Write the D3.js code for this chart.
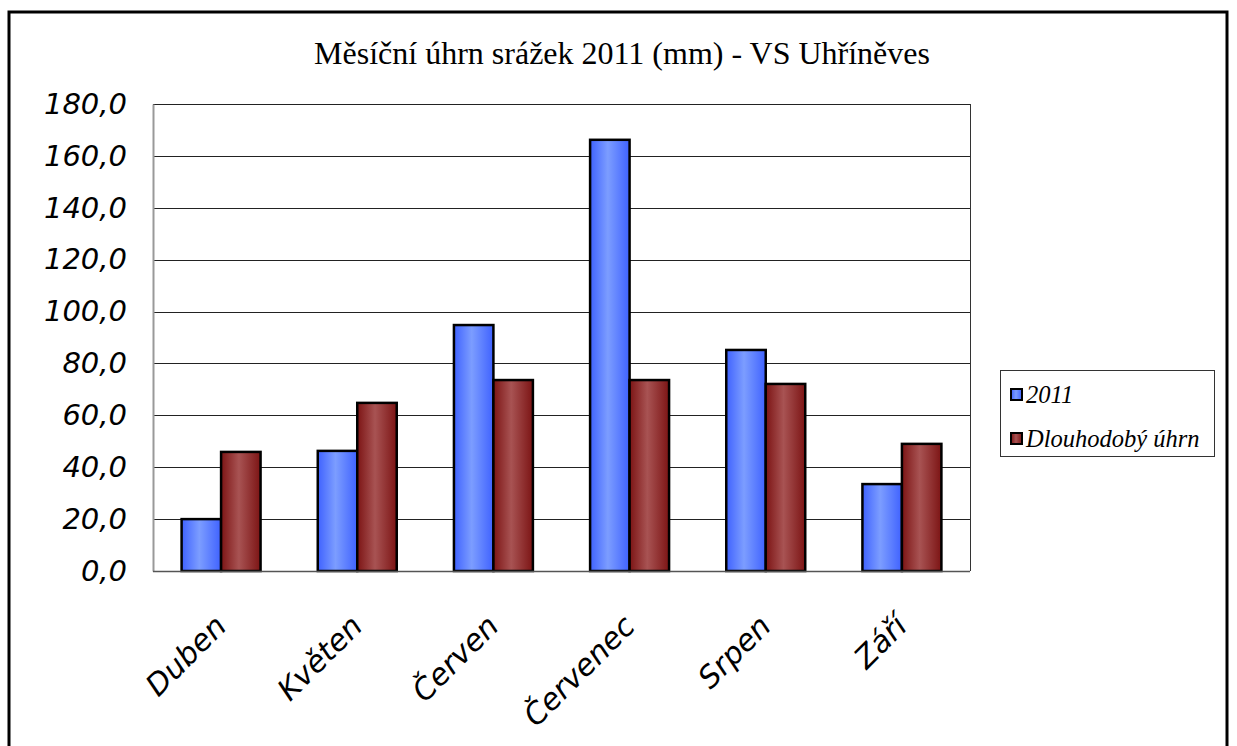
<!DOCTYPE html>
<html>
<head>
<meta charset="utf-8">
<script src="https://cdn.jsdelivr.net/npm/d3@7"></script>
<style>
  html, body { margin: 0; padding: 0; background: #fff; }
  svg { display: block; }
</style>
</head>
<body>
<svg id="chart" width="1237" height="746"></svg>
<script>
// Monthly precipitation, VS Uhříněves
const months = ["Duben", "Květen", "Červen", "Červenec", "Srpen", "Září"];
const series = ["2011", "Dlouhodobý úhrn"];
const values2011 = [20.0, 46.3, 94.8, 166.2, 85.2, 33.5];
const valuesLongTerm = [45.9, 64.8, 73.6, 73.6, 72.1, 49.0];
const yTicks = [0, 20, 40, 60, 80, 100, 120, 140, 160, 180];
const title = "Měsíční úhrn srážek 2011 (mm) - VS Uhříněves";

const svg = d3.select("#chart");
const plot = { left: 153, right: 970, top: 104, bottom: 571 };

// gradients for bars (cylinder-like shading)
const defs = svg.append("defs");
function grad(id, edge, mid) {
  const g = defs.append("linearGradient").attr("id", id)
    .attr("x1", "0%").attr("x2", "100%").attr("y1", "0%").attr("y2", "0%");
  g.append("stop").attr("offset", "0%").attr("stop-color", edge);
  g.append("stop").attr("offset", "45%").attr("stop-color", mid);
  g.append("stop").attr("offset", "100%").attr("stop-color", edge);
}
grad("gBlue", "#3f62ff", "#7c9dff");
grad("gRed", "#7c1414", "#a85353");
const fills = ["url(#gBlue)", "url(#gRed)"];

// outer frame
svg.append("rect").attr("x", 9).attr("y", 12).attr("width", 1218).attr("height", 760)
  .attr("fill", "#fff").attr("stroke", "#000").attr("stroke-width", 3);

// title
svg.append("text").attr("x", 622).attr("y", 64)
  .attr("text-anchor", "middle")
  .style("font-family", "'Liberation Serif', 'Times New Roman', serif")
  .style("font-size", "32px").text(title);

const x0 = d3.scaleBand().domain(months).range([plot.left, plot.right]).paddingInner(0).paddingOuter(0);
const groupW = x0.bandwidth() * 0.58;
const x1 = d3.scaleBand().domain(series).range([0, groupW]);
const y = d3.scaleLinear().domain([0, 180]).range([plot.bottom, plot.top]);

// grid lines
svg.append("g").selectAll("line").data(yTicks.filter(d => d > 0)).join("line")
  .attr("x1", plot.left).attr("x2", plot.right)
  .attr("y1", d => Math.round(y(d)) + 0.5).attr("y2", d => Math.round(y(d)) + 0.5)
  .attr("stroke", "#222").attr("stroke-width", 1);

// plot border
svg.append("line").attr("x1", plot.right + 0.5).attr("x2", plot.right + 0.5)
  .attr("y1", plot.top).attr("y2", plot.bottom).attr("stroke", "#333");

// y axis
const yAxis = d3.axisLeft(y).tickValues(yTicks).tickSize(0).tickPadding(26)
  .tickFormat(d => d3.format(".1f")(d).replace(".", ","));
const ya = svg.append("g").attr("transform", `translate(${plot.left},0)`).call(yAxis);
ya.select(".domain").attr("stroke", "#999").attr("stroke-width", 2);
ya.selectAll("text")
  .style("font-family", "'DejaVu Sans', Verdana, sans-serif")
  .style("font-style", "italic").style("font-size", "29px").attr("fill", "#000");

// bars
const data = months.map((m, i) => ({ month: m, vals: [values2011[i], valuesLongTerm[i]] }));
const groups = svg.append("g").selectAll("g").data(data).join("g")
  .attr("transform", d => `translate(${x0(d.month) + (x0.bandwidth() - groupW) / 2},0)`);
groups.selectAll("rect").data(d => d.vals.map((v, j) => ({ v, s: series[j], j }))).join("rect")
  .attr("x", d => x1(d.s)).attr("width", x1.bandwidth())
  .attr("y", d => y(d.v)).attr("height", d => y(0) - y(d.v))
  .attr("fill", d => fills[d.j]).attr("stroke", "#000").attr("stroke-width", 2.5);

// x axis line
svg.append("line").attr("x1", plot.left).attr("x2", plot.right)
  .attr("y1", plot.bottom + 0.5).attr("y2", plot.bottom + 0.5).attr("stroke", "#555").attr("stroke-width", 1.5);

// x labels rotated
svg.append("g").selectAll("text").data(months).join("text")
  .attr("transform", d => `translate(${x0(d) + x0.bandwidth() / 2 + 7},${plot.bottom + 57}) rotate(-45)`)
  .attr("text-anchor", "end")
  .style("font-family", "'DejaVu Sans', Verdana, sans-serif")
  .style("font-style", "italic").style("font-size", "30px")
  .text(d => d);

// legend
const lg = svg.append("g").attr("transform", "translate(1000,370)");
lg.append("rect").attr("x", 0.5).attr("y", 0.5).attr("width", 214).attr("height", 86)
  .attr("fill", "#fff").attr("stroke", "#333");
series.forEach((s, i) => {
  const cy = 25 + i * 44;
  lg.append("rect").attr("x", 11).attr("y", cy - 6).attr("width", 11).attr("height", 11)
    .attr("fill", fills[i]).attr("stroke", "#000").attr("stroke-width", 2);
  lg.append("text").attr("x", 26).attr("y", cy + 8)
    .style("font-family", "'Liberation Serif', 'Times New Roman', serif")
    .style("font-style", "italic").style("font-size", "24.5px").text(s);
});
</script>
</body>
</html>
